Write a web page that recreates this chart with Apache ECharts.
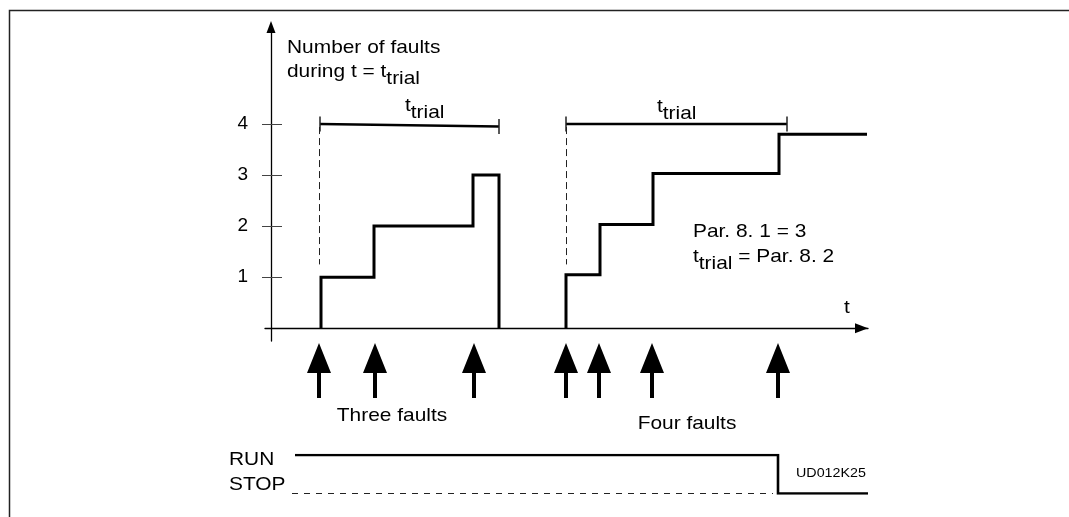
<!DOCTYPE html>
<html lang="en">
<head>
<meta charset="UTF-8">
<title>Fault counter</title>
<style>
    html, body {
        margin: 0;
        width: 100%;
        height: 100%;
        background: #fff;
        overflow: hidden;
    }
    #container {
        width: 1069px;
        height: 517px;
    }
</style>
</head>
<body>
<div id="container"></div>
<script src="https://cdn.jsdelivr.net/npm/echarts@6/dist/echarts.min.js"></script>
<script>
    // fault counter, first trial window (time, count)
    var timesA = [5.0, 5.0, 10.3, 20.2, 22.8];
    var countsA = [0, 1, 2, 3, 0];
    // fault counter, second trial window
    var timesB = [29.5, 29.5, 32.9, 38.2, 50.8, 59.6];
    var countsB = [0, 1.05, 2.03, 3.03, 3.8, 3.8];
    // t_trial brackets
    var trialA = [[4.9, 4.0], [22.8, 3.95]];
    var trialB = [[29.5, 4.0], [51.6, 4.0]];
    // dashed start markers
    var startA = [[4.85, 3.94], [4.85, 1.25]];
    var startB = [[29.55, 3.94], [29.55, 1.25]];
    var yTicks = [1, 2, 3, 4];
    // fault events (arrows)
    var faultTimes = [4.8, 10.4, 20.3, 29.5, 32.8, 38.1, 50.7];
    // RUN / STOP signal
    var runTimes = [2.4, 50.7, 50.7, 59.7];
    var runState = [1, 1, 0, 0];
    var stopTimes = [2.1, 50.2];
    var stopState = [0, 0];

    function pairs(xs, ys) {
        return xs.map(function (x, i) { return [x, ys[i]]; });
    }

    var FONT = "'Liberation Sans', Arial, sans-serif";
    var SX = 1.1; // reference text is a bit wide

    function txt(x, y, text, align, size, rich) {
        var st = {
            text: text,
            fontSize: size || 19,
            fontFamily: FONT,
            fill: '#000',
            textAlign: align || 'left',
            textVerticalAlign: 'middle'
        };
        if (rich) st.rich = rich;
        return { type: 'text', x: x, y: y, scaleX: SX, z: 10, style: st };
    }
    var sub = {
        n: { fontSize: 19, fontFamily: FONT, fill: '#000' },
        s: { fontSize: 19, fontFamily: FONT, fill: '#000', padding: [14, 0, 0, 0] }
    };

    var ARROW = 'path://M12,0L24,30L14,30L14,55L10,55L10,30L0,30Z';

    var chart = echarts.init(document.getElementById('container'));
    var option = {
        animation: false,
        backgroundColor: '#fff',
        grid: [
            { left: 265, top: 27, width: 603, height: 314, outerBoundsMode: 'none' },
            { left: 265, top: 343, width: 603, height: 55, outerBoundsMode: 'none' },
            { left: 281, top: 455, width: 587, height: 38.5, outerBoundsMode: 'none' }
        ],
        xAxis: [
            {
                gridIndex: 0, type: 'value', min: -0.6, max: 59.7,
                axisLine: {
                    onZero: true,
                    symbol: ['none', 'triangle'], symbolSize: [10, 13],
                    symbolOffset: [0, -6.5],
                    lineStyle: { color: '#000', width: 1.3 }
                },
                axisTick: { show: false },
                axisLabel: { show: false },
                splitLine: { show: false }
            },
            { gridIndex: 1, type: 'value', min: -0.6, max: 59.7, show: false },
            { gridIndex: 2, type: 'value', min: 1.0, max: 59.7, show: false }
        ],
        yAxis: [
            {
                gridIndex: 0, type: 'value', min: -0.25, max: 5.9,
                axisLine: {
                    show: true, onZero: true,
                    symbol: ['none', 'triangle'], symbolSize: [9, 12],
                    lineStyle: { color: '#000', width: 1.3 }
                },
                axisTick: {
                    show: true, inside: false, length: 9, customValues: yTicks,
                    lineStyle: { color: '#444', width: 1 }
                },
                axisLabel: {
                    show: true, customValues: yTicks, margin: 17,
                    fontSize: 19, fontFamily: FONT, color: '#000'
                },
                splitLine: { show: false }
            },
            {
                gridIndex: 0, type: 'value', min: -0.25, max: 5.9,
                position: 'left', offset: -6,
                axisLine: { show: false, onZero: false },
                axisTick: {
                    show: true, inside: true, length: 11, customValues: yTicks,
                    lineStyle: { color: '#444', width: 1 }
                },
                axisLabel: { show: false },
                splitLine: { show: false }
            },
            { gridIndex: 1, type: 'value', min: 0, max: 1, show: false },
            { gridIndex: 2, type: 'value', min: 0, max: 1, show: false }
        ],
        series: [
            {
                type: 'line', step: 'end', data: pairs(timesA, countsA),
                symbol: 'none',
                lineStyle: { color: '#000', width: 3, join: 'miter', cap: 'butt' }
            },
            {
                type: 'line', step: 'end', data: pairs(timesB, countsB),
                symbol: 'none',
                lineStyle: { color: '#000', width: 3, join: 'miter', cap: 'butt' }
            },
            {
                type: 'line', data: trialA, symbol: 'rect', symbolSize: [1.5, 15],
                showSymbol: true, itemStyle: { color: '#222' },
                lineStyle: { color: '#000', width: 2.6 }
            },
            {
                type: 'line', data: trialB, symbol: 'rect', symbolSize: [1.5, 15],
                showSymbol: true, itemStyle: { color: '#222' },
                lineStyle: { color: '#000', width: 2.6 }
            },
            {
                type: 'line', data: startA, symbol: 'none',
                lineStyle: { color: '#222', width: 1, type: [7, 4] }
            },
            {
                type: 'line', data: startB, symbol: 'none',
                lineStyle: { color: '#222', width: 1, type: [7, 4] }
            },
            {
                type: 'scatter', xAxisIndex: 1, yAxisIndex: 2,
                data: faultTimes.map(function (t) { return [t, 0.5]; }),
                symbol: ARROW, symbolSize: [24, 55],
                itemStyle: { color: '#000', opacity: 1 }
            },
            {
                type: 'line', xAxisIndex: 2, yAxisIndex: 3,
                data: pairs(runTimes, runState), symbol: 'none',
                lineStyle: { color: '#000', width: 2.6, join: 'miter', cap: 'butt' }
            },
            {
                type: 'line', xAxisIndex: 2, yAxisIndex: 3,
                data: pairs(stopTimes, stopState), symbol: 'none',
                lineStyle: { color: '#222', width: 1, type: [6, 6] }
            }
        ],
        graphic: [
            {
                type: 'polyline', z: 10,
                shape: { points: [[9.5, 517], [9.5, 10.5], [1069, 10.5]] },
                style: { stroke: '#222', lineWidth: 1.5, fill: null }
            },
            txt(287, 48, 'Number of faults'),
            txt(287, 72, '{n|during t = t}{s|trial}', 'left', 19, sub),
            txt(405, 106, '{n|t}{s|trial}', 'left', 19, sub),
            txt(657, 107, '{n|t}{s|trial}', 'left', 19, sub),
            txt(693, 232, 'Par. 8. 1 = 3'),
            txt(693, 257, '{n|t}{s|trial}{n| = Par. 8. 2}', 'left', 19, sub),
            txt(847, 308, 't', 'center'),
            txt(392, 416, 'Three faults', 'center'),
            txt(687, 424, 'Four faults', 'center'),
            txt(229, 459.5, 'RUN'),
            txt(229, 484.5, 'STOP'),
            txt(796, 473, 'UD012K25', 'left', 13)
        ]
    };
    chart.setOption(option);
</script>
</body>
</html>
